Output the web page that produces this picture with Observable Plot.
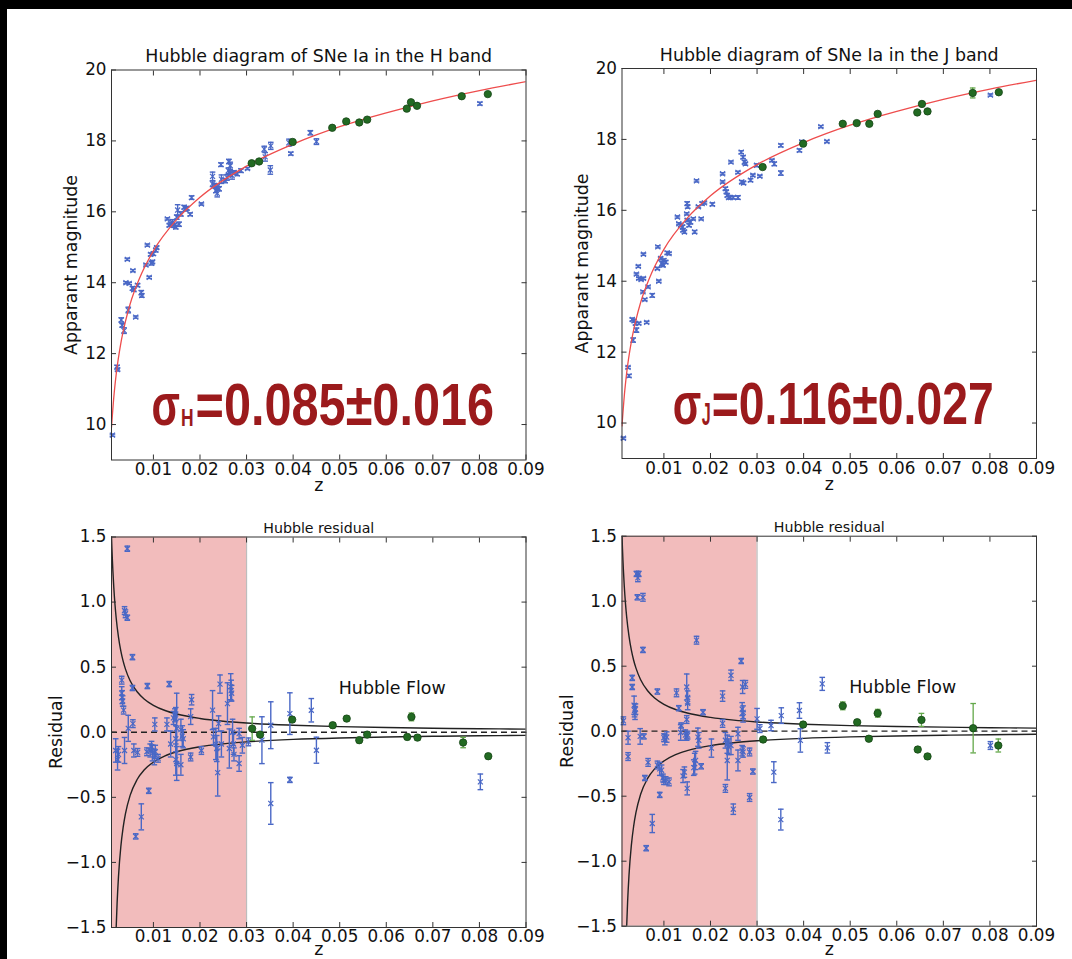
<!DOCTYPE html>
<html><head><meta charset="utf-8">
<script src="https://cdn.jsdelivr.net/npm/d3@7"></script>
<script src="https://cdn.jsdelivr.net/npm/@observablehq/plot@0.6"></script>
<style>
html,body{margin:0;padding:0;background:#fff;}
#page{position:relative;width:1072px;height:959px;background:#fff;overflow:hidden;}
.bar-top{position:absolute;left:0;top:0;width:1072px;height:9px;background:#000;}
.bar-left{position:absolute;left:0;top:0;width:7px;height:959px;background:#000;}
</style></head>
<body><div id="page"><div class="bar-top"></div><div class="bar-left"></div></div>
<script>
// ---------- axes / ticks ----------
const xTicks = [0.01, 0.02, 0.03, 0.04, 0.05, 0.06, 0.07, 0.08, 0.09];
const magTicks = [10, 12, 14, 16, 18, 20];
const resTicks = [-1.5, -1.0, -0.5, 0.0, 0.5, 1.0, 1.5];
const zDomain = [0.001, 0.09];
const magDomain = [9, 20];
const resDomain = [-1.5, 1.5];
const lowZBand = [0.001, 0.03];
const titles = ["Hubble diagram of SNe Ia in the H band", "Hubble diagram of SNe Ia in the J band", "Hubble residual"];
const axisLabels = ["Apparant magnitude", "Residual", "z"];
const flowLabel = "Hubble Flow";
const flowAt = [0.0498, 0.292];
const sigmaTexts = [["σ", "H", "=0.085±0.016"], ["σ", "J", "=0.116±0.027"]];
const sigmaAt = [[0.0096, 10.0], [0.0119, 9.97]];

// ---------- fitted Hubble line ----------
const fitZ = [0.001, 0.0015, 0.002, 0.003, 0.004, 0.005, 0.007, 0.01, 0.015, 0.02, 0.03, 0.04, 0.05, 0.06, 0.07, 0.08, 0.09];
const fitM = [9.92, 10.78, 11.41, 12.29, 12.91, 13.40, 14.12, 14.90, 15.78, 16.41, 17.29, 17.91, 18.40, 18.79, 19.13, 19.42, 19.67];

// ---------- peculiar-velocity envelope ----------
const envUpZ = [0.001, 0.0011, 0.0012, 0.0013, 0.0015, 0.00175, 0.002, 0.0025, 0.003, 0.0035, 0.004, 0.005, 0.0065, 0.008, 0.01, 0.0125, 0.015, 0.02, 0.025, 0.03, 0.04, 0.05, 0.06, 0.07, 0.08, 0.09];
const envUp = [1.505, 1.404, 1.316, 1.239, 1.109, 0.981, 0.880, 0.731, 0.625, 0.546, 0.485, 0.396, 0.311, 0.256, 0.207, 0.167, 0.140, 0.106, 0.085, 0.071, 0.054, 0.043, 0.036, 0.031, 0.027, 0.024];
const envLoZ = [0.0019, 0.002, 0.0022, 0.0025, 0.003, 0.0035, 0.004, 0.005, 0.0065, 0.008, 0.01, 0.0125, 0.015, 0.02, 0.025, 0.03, 0.04, 0.05, 0.06, 0.07, 0.08, 0.09];
const envLo = [-1.62, -1.505, -1.316, -1.109, -0.880, -0.731, -0.625, -0.485, -0.363, -0.290, -0.229, -0.181, -0.150, -0.111, -0.089, -0.074, -0.055, -0.044, -0.037, -0.031, -0.027, -0.024];

// ---------- H band magnitudes [z, m, err] ----------
const hMagBlue = [
 [0.0012,9.70,0.03],[0.0022,11.62,0.05],[0.0023,11.55,0.04],[0.0031,12.95,0.06],[0.0033,12.80,0.05],[0.0037,12.65,0.08],
 [0.0044,14.66,0.03],[0.0041,14.00,0.03],[0.0048,13.98,0.03],[0.0056,14.34,0.03],[0.0046,13.23,0.08],[0.0055,13.84,0.05],
 [0.0058,13.80,0.04],[0.0066,13.93,0.04],[0.0062,13.03,0.03],[0.0074,13.72,0.06],[0.0075,13.64,0.05],[0.0084,14.50,0.03],
 [0.0087,15.06,0.03],[0.0091,14.15,0.03],[0.0096,14.55,0.05],[0.0098,14.59,0.04],[0.0094,14.80,0.04],[0.0100,14.82,0.05],
 [0.0105,14.92,0.05],[0.0107,14.99,0.04],[0.0134,15.62,0.04],[0.0137,15.66,0.05],[0.0130,15.80,0.03],[0.0141,15.70,0.08],
 [0.0145,15.62,0.06],[0.0148,15.57,0.05],[0.0150,15.85,0.06],[0.0152,16.05,0.15],[0.0155,15.65,0.06],[0.0159,15.94,0.06],
 [0.0166,16.13,0.05],[0.0169,16.08,0.06],[0.0172,16.10,0.05],[0.0179,15.93,0.04],[0.0182,16.40,0.05],[0.0203,16.22,0.03],
 [0.0227,17.00,0.12],[0.0227,16.79,0.08],[0.0231,16.74,0.06],[0.0237,16.70,0.08],[0.0234,16.60,0.06],[0.0241,16.65,0.06],
 [0.0237,16.52,0.10],[0.0245,17.33,0.05],[0.0246,16.92,0.12],[0.0262,17.42,0.06],[0.0265,17.30,0.10],[0.0261,17.16,0.08],
 [0.0265,17.08,0.08],[0.0269,17.02,0.10],[0.0254,16.88,0.06],[0.0258,16.97,0.08],[0.0273,17.11,0.05],[0.0280,17.07,0.05],
 [0.0288,17.16,0.05],[0.0302,17.22,0.03],[0.0338,17.77,0.08],[0.0340,17.55,0.12],[0.0351,17.18,0.12],[0.0352,17.86,0.10],
 [0.0391,17.95,0.10],[0.0395,17.64,0.04],[0.0437,18.23,0.06],[0.0450,17.98,0.08],[0.0801,19.05,0.04]
];
const hMagGreen = [
 [0.0311,17.37,0.03],[0.0327,17.42,0.03],[0.0399,17.97,0.03],[0.0484,18.37,0.03],[0.0514,18.55,0.03],[0.0542,18.52,0.03],
 [0.0559,18.60,0.03],[0.0644,18.91,0.03],[0.0653,19.09,0.03],[0.0666,18.99,0.03],[0.0762,19.26,0.03],[0.0818,19.32,0.03]
];

// ---------- J band magnitudes [z, m, err] ----------
const jMagBlue = [
 [0.0013,9.57,0.03],[0.0023,11.57,0.03],[0.0025,11.33,0.04],[0.0034,12.34,0.06],[0.0032,12.92,0.04],[0.0036,12.88,0.04],
 [0.0039,12.81,0.04],[0.0046,12.81,0.03],[0.0041,12.62,0.06],[0.0041,14.20,0.03],[0.0045,14.42,0.03],[0.0046,14.08,0.03],
 [0.0051,14.05,0.03],[0.0056,14.08,0.03],[0.0056,14.76,0.03],[0.0055,13.70,0.03],[0.0059,13.48,0.03],[0.0063,12.84,0.03],
 [0.0066,13.84,0.03],[0.0075,13.60,0.05],[0.0087,14.97,0.03],[0.0089,14.00,0.03],[0.0086,14.36,0.03],[0.0093,14.64,0.04],
 [0.0096,14.50,0.05],[0.0098,14.45,0.04],[0.0100,14.59,0.04],[0.0104,14.54,0.04],[0.0107,14.80,0.04],[0.0111,14.78,0.03],
 [0.0129,15.81,0.03],[0.0132,15.62,0.03],[0.0136,15.58,0.04],[0.0140,15.53,0.05],[0.0141,15.44,0.04],[0.0144,15.39,0.04],
 [0.0150,16.19,0.05],[0.0151,16.10,0.04],[0.0149,15.90,0.03],[0.0150,15.72,0.04],[0.0154,15.58,0.04],[0.0157,15.67,0.05],
 [0.0163,15.76,0.03],[0.0166,15.39,0.04],[0.0170,16.83,0.03],[0.0174,16.10,0.03],[0.0180,15.76,0.03],[0.0182,16.19,0.04],
 [0.0187,16.21,0.03],[0.0204,16.17,0.04],[0.0226,17.03,0.03],[0.0226,16.80,0.03],[0.0232,16.61,0.04],[0.0234,16.52,0.04],
 [0.0236,16.42,0.04],[0.0239,16.36,0.04],[0.0243,16.36,0.04],[0.0249,16.36,0.04],[0.0259,16.36,0.05],[0.0244,17.36,0.03],
 [0.0259,17.07,0.03],[0.0266,17.64,0.04],[0.0270,17.50,0.04],[0.0273,17.36,0.05],[0.0275,17.31,0.04],[0.0267,16.80,0.04],
 [0.0271,16.77,0.04],[0.0286,16.85,0.04],[0.0291,16.99,0.03],[0.0299,17.27,0.04],[0.0306,16.96,0.03],[0.0332,17.41,0.03],
 [0.0337,17.31,0.05],[0.0351,17.83,0.04],[0.0351,17.05,0.06],[0.0391,17.69,0.04],[0.0396,17.93,0.04],[0.0437,18.36,0.03],
 [0.0450,17.94,0.03],[0.0801,19.25,0.03]
];
const jMagGreen = [
 [0.0312,17.22,0.03],[0.0399,17.88,0.03],[0.0484,18.44,0.03],[0.0514,18.46,0.03],[0.0541,18.44,0.03],[0.0559,18.72,0.03],
 [0.0644,18.76,0.03],[0.0654,19.00,0.03],[0.0666,18.79,0.03],[0.0763,19.31,0.14],[0.0819,19.33,0.03]
];

// ---------- H band residuals [z, residual, err] ----------
const hResBlue = [
 [0.0019,-0.14,0.09],[0.0023,-0.21,0.08],[0.0025,-0.17,0.06],[0.0032,0.40,0.03],[0.0032,0.30,0.05],[0.0033,0.27,0.05],
 [0.0034,0.24,0.04],[0.0036,0.17,0.03],[0.0038,-0.14,0.10],[0.0038,0.935,0.03],[0.0040,0.91,0.03],[0.0044,0.88,0.02],
 [0.0044,1.41,0.02],[0.0046,0.03,0.10],[0.0055,0.577,0.02],[0.0055,0.34,0.02],[0.0056,0.066,0.03],[0.0058,-0.14,0.05],
 [0.0066,-0.155,0.03],[0.0062,-0.80,0.02],[0.0074,-0.65,0.10],[0.0086,-0.15,0.03],[0.0087,0.355,0.02],[0.0090,-0.45,0.02],
 [0.0093,-0.14,0.05],[0.0096,-0.11,0.04],[0.0098,-0.16,0.06],[0.0102,-0.19,0.06],[0.0104,-0.15,0.05],[0.0103,0.06,0.05],
 [0.0110,-0.20,0.03],[0.0129,0.06,0.05],[0.0134,0.37,0.02],[0.0137,-0.09,0.10],[0.0143,0.11,0.05],[0.0146,0.13,0.05],
 [0.0148,0.14,0.05],[0.0150,0.03,0.27],[0.0148,-0.05,0.10],[0.0148,-0.21,0.12],[0.0150,-0.24,0.13],[0.0159,0.02,0.08],
 [0.0162,-0.03,0.08],[0.0164,-0.05,0.07],[0.0159,-0.25,0.08],[0.0180,0.12,0.06],[0.0182,0.25,0.04],[0.0180,-0.19,0.03],
 [0.0203,-0.14,0.03],[0.0227,0.17,0.15],[0.0229,-0.035,0.06],[0.0234,-0.09,0.12],[0.0236,-0.125,0.10],[0.0238,-0.31,0.18],
 [0.0243,0.37,0.07],[0.0240,0.066,0.06],[0.0246,-0.09,0.10],[0.0259,0.22,0.16],[0.0266,0.35,0.10],[0.0267,0.32,0.08],
 [0.0268,0.30,0.06],[0.0263,-0.125,0.15],[0.0270,0.00,0.10],[0.0272,-0.09,0.08],[0.0273,-0.17,0.05],[0.0284,-0.24,0.06],
 [0.0284,-0.01,0.04],[0.0291,-0.10,0.06],[0.0304,-0.074,0.03],[0.0333,-0.061,0.18],[0.0352,0.054,0.18],[0.0352,-0.547,0.16],
 [0.0393,0.143,0.16],[0.0393,-0.366,0.02],[0.0439,0.169,0.09],[0.0450,-0.138,0.10],[0.0802,-0.381,0.06]
];
const hResGreen = [
 [0.0312,0.028,0.09],[0.0329,-0.018,0.02],[0.0398,0.097,0.02],[0.0485,0.054,0.02],[0.0515,0.105,0.02],[0.0542,-0.061,0.02],
 [0.0559,-0.018,0.02],[0.0645,-0.036,0.02],[0.0654,0.118,0.03],[0.0667,-0.041,0.02],[0.0765,-0.079,0.04],[0.0819,-0.184,0.02]
];

// ---------- J band residuals [z, residual, err] ----------
const jResBlue = [
 [0.0013,0.08,0.03],[0.0023,-0.05,0.05],[0.0023,-0.195,0.03],[0.0032,0.41,0.02],[0.0032,0.34,0.02],[0.0036,0.20,0.07],
 [0.0037,0.16,0.05],[0.0038,0.14,0.05],[0.0039,0.17,0.04],[0.0041,1.21,0.02],[0.0044,1.18,0.03],[0.0046,1.21,0.02],
 [0.0043,1.03,0.02],[0.0055,1.03,0.03],[0.0049,-0.04,0.06],[0.0055,0.625,0.02],[0.0057,-0.04,0.02],[0.0059,-0.36,0.02],
 [0.0062,-0.90,0.02],[0.0066,-0.24,0.03],[0.0075,-0.71,0.07],[0.0086,0.305,0.02],[0.0086,-0.26,0.03],[0.0091,-0.29,0.05],
 [0.0095,-0.30,0.04],[0.0091,-0.49,0.02],[0.0098,-0.36,0.03],[0.0100,-0.38,0.03],[0.0104,-0.38,0.03],[0.0111,-0.39,0.03],
 [0.0100,-0.05,0.03],[0.0102,-0.065,0.04],[0.0106,-0.045,0.04],[0.0127,0.295,0.03],[0.0132,0.177,0.02],[0.0137,0.044,0.02],
 [0.0136,-0.01,0.06],[0.0141,-0.345,0.05],[0.0144,-0.315,0.04],[0.0146,-0.03,0.04],[0.0149,-0.04,0.03],[0.0151,-0.03,0.03],
 [0.0149,0.34,0.10],[0.0149,0.09,0.03],[0.0151,0.215,0.05],[0.0151,0.26,0.05],[0.0150,-0.44,0.05],[0.0170,0.70,0.03],
 [0.0173,-0.046,0.07],[0.0175,-0.07,0.06],[0.0164,-0.28,0.06],[0.0166,-0.25,0.08],[0.0168,-0.225,0.07],[0.0180,-0.27,0.02],
 [0.0184,0.146,0.02],[0.0202,-0.13,0.07],[0.0226,0.27,0.04],[0.0226,0.06,0.03],[0.0232,-0.07,0.06],[0.0236,-0.10,0.07],
 [0.0239,-0.12,0.06],[0.0244,-0.11,0.07],[0.0232,-0.44,0.03],[0.0236,-0.225,0.15],[0.0244,0.43,0.04],[0.0249,-0.60,0.04],
 [0.0259,-0.02,0.05],[0.0259,-0.225,0.08],[0.0266,0.54,0.02],[0.0268,0.17,0.05],[0.0270,0.145,0.05],[0.0270,0.11,0.04],
 [0.0268,-0.15,0.04],[0.0270,-0.16,0.04],[0.0269,0.34,0.05],[0.0275,0.36,0.03],[0.0284,-0.16,0.03],[0.0284,-0.51,0.03],
 [0.0291,-0.31,0.02],[0.0300,0.095,0.08],[0.0306,0.02,0.03],[0.0330,0.044,0.04],[0.0336,-0.315,0.08],[0.0352,0.12,0.06],
 [0.0351,-0.68,0.08],[0.0391,0.159,0.06],[0.0393,-0.071,0.09],[0.0440,0.364,0.05],[0.0451,-0.128,0.04],[0.0801,-0.11,0.03]
];
const jResGreen = [
 [0.0313,-0.064,0.02],[0.0399,0.051,0.02],[0.0484,0.195,0.03],[0.0515,0.069,0.02],[0.0540,-0.058,0.02],[0.0559,0.138,0.03],
 [0.0645,-0.141,0.02],[0.0653,0.087,0.05],[0.0666,-0.194,0.02],[0.0764,0.023,0.19],[0.0818,-0.11,0.05]
];

// ---------- styling ----------
const FONT = "DejaVu Sans, Bitstream Vera Sans, Verdana, sans-serif";
const BLUE = "#4a68c6", GREEN = "#226a22", GREEN_EDGE = "#174517", GREEN_BAR = "#63a84a";
const RED = "#ee4d4d", PINK = "#f2bcbc", SIGMA = "#9b1a1c";
const capSymbol = {draw(ctx, size) { const w = Math.sqrt(size / Math.PI); ctx.moveTo(-w, 0); ctx.lineTo(w, 0); }};
const rows = arr => arr.map(([z, v, e]) => ({z, v, e}));
const pts = (xs, ys) => xs.map((x, i) => ({x, y: ys[i]}));

function errorMarks(data, barColor, width) {
  const d = rows(data);
  return [
    Plot.ruleX(d, {x: "z", y1: r => r.v - r.e, y2: r => r.v + r.e, stroke: barColor, strokeWidth: width}),
    Plot.dot(d, {x: "z", y: r => r.v + r.e, symbol: capSymbol, r: 2.8, stroke: barColor, strokeWidth: width, fill: "none"}),
    Plot.dot(d, {x: "z", y: r => r.v - r.e, symbol: capSymbol, r: 2.8, stroke: barColor, strokeWidth: width, fill: "none"})
  ];
}
function blueMarks(data) {
  return [
    ...errorMarks(data, BLUE, 1.4),
    Plot.dot(rows(data), {x: "z", y: "v", symbol: "times", r: 2.4, stroke: BLUE, strokeWidth: 1.2})
  ];
}
function greenMarks(data) {
  return [
    ...errorMarks(data, GREEN_BAR, 1.3),
    Plot.dot(rows(data), {x: "z", y: "v", r: 3.7, fill: GREEN, stroke: GREEN_EDGE, strokeWidth: 0.8})
  ];
}

function frameMarks(o) {
  return [
    Plot.frame({stroke: "#333", strokeWidth: 1}),
    Plot.axisX(xTicks, {anchor: "bottom", tickSize: 0, tickPadding: o.xPad, tickFormat: d3.format(".2f"), fontSize: 16.8, label: null, fill: "#111"}),
    Plot.axisX(xTicks, {anchor: "bottom", tickSize: -5, fill: "none", label: null, stroke: "#333"}),
    Plot.axisX(xTicks, {anchor: "top", tickSize: -5, fill: "none", label: null, stroke: "#333"}),
    Plot.axisY(o.yTicks, {anchor: "left", tickSize: 0, tickPadding: 5, tickFormat: o.yFmt, fontSize: 16.8, label: null, fill: "#111"}),
    Plot.axisY(o.yTicks, {anchor: "left", tickSize: -5, fill: "none", label: null, stroke: "#333"}),
    Plot.axisY(o.yTicks, {anchor: "right", tickSize: -5, fill: "none", label: null, stroke: "#333"}),
    Plot.text([o.title], {text: d => d, frameAnchor: "top", lineAnchor: "bottom", dy: o.titleDy, fontSize: o.titleSize, fill: "#111"}),
    Plot.text([o.ylabel], {text: d => d, frameAnchor: "left", rotate: -90, lineAnchor: "middle", textAnchor: "middle", dx: o.yLabDx, fontSize: 17.4, fill: "#111"}),
    Plot.text([axisLabels[2]], {text: d => d, frameAnchor: "bottom", lineAnchor: "bottom", dy: o.zDy, fontSize: 17.4, fill: "#111"})
  ];
}

function sigmaMarks(idx, subDx, mainDx) {
  const at = [sigmaAt[idx]];
  const base = {x: d => d[0], y: d => d[1], textAnchor: "start", lineAnchor: "bottom", fill: SIGMA, fontWeight: "bold", fontFamily: "Liberation Sans, Arial, sans-serif"};
  return [
    Plot.text(at, {...base, text: () => sigmaTexts[idx][0], fontSize: 60}),
    Plot.text(at, {...base, text: () => sigmaTexts[idx][1], fontSize: idx === 0 ? 24 : 32, dx: subDx, dy: 1}),
    Plot.text(at, {...base, text: () => sigmaTexts[idx][2], fontSize: 60, dx: mainDx})
  ];
}

const page = document.getElementById("page");
function place(svg, left, top) {
  svg.style.position = "absolute";
  svg.style.left = left + "px";
  svg.style.top = top + "px";
  page.appendChild(svg);
  return svg;
}
// horizontally condense a text (after it is in the document) so that it spans `len` pixels
function squash(svg, content, len) {
  d3.select(svg).selectAll("text")
    .filter(function () { return this.textContent === content; })
    .each(function () {
      const w = this.getComputedTextLength();
      if (!w) return;
      const t = this.getAttribute("transform") || "";
      this.setAttribute("transform", `${t} scale(${(len / w).toFixed(4)},1)`);
    });
}
const styleBase = {background: "transparent", fontFamily: FONT, fontSize: "16.8px", color: "#111", overflow: "visible"};

function magPanel(o, blue, green, sigIdx, subDx, mainDx, lens) {
  const svg = Plot.plot({
    width: o.width, height: o.height,
    marginLeft: o.mL, marginRight: o.mR, marginTop: o.mT, marginBottom: o.mB,
    style: styleBase,
    x: {domain: zDomain},
    y: {domain: magDomain},
    marks: [
      ...blueMarks(blue),
      Plot.line(pts(fitZ, fitM), {x: "x", y: "y", stroke: RED, strokeWidth: 1.3, curve: "monotone-x", clip: true}),
      ...greenMarks(green),
      ...sigmaMarks(sigIdx, subDx, mainDx),
      ...frameMarks({...o, yTicks: magTicks, yFmt: d3.format("d")})
    ]
  });
  place(svg, o.left, o.top);
  sigmaTexts[sigIdx].forEach((t, i) => squash(svg, t, lens[i]));
  return svg;
}

function resPanel(o, blue, green) {
  const svg = Plot.plot({
    width: o.width, height: o.height,
    marginLeft: o.mL, marginRight: o.mR, marginTop: o.mT, marginBottom: o.mB,
    style: styleBase,
    x: {domain: zDomain},
    y: {domain: resDomain},
    marks: [
      Plot.rect([lowZBand], {x1: d => d[0], x2: d => d[1], fill: PINK}),
      Plot.ruleX([lowZBand[1]], {stroke: "#bdbdbd", strokeWidth: 1.2}),
      Plot.line(pts(envUpZ, envUp), {x: "x", y: "y", stroke: "#222", strokeWidth: 1.4, curve: "monotone-x", clip: true}),
      Plot.line(pts(envLoZ, envLo), {x: "x", y: "y", stroke: "#222", strokeWidth: 1.4, curve: "monotone-x", clip: true}),
      Plot.ruleY([0], {stroke: "#222", strokeWidth: 1.3, strokeDasharray: "6,4"}),
      ...blueMarks(blue),
      ...greenMarks(green),
      Plot.text([flowAt], {x: d => d[0], y: d => d[1], text: () => flowLabel, textAnchor: "start", lineAnchor: "bottom", fontSize: 17.4, fill: "#111"}),
      ...frameMarks({...o, yTicks: resTicks, yFmt: d3.format(".1f")})
    ]
  });
  return place(svg, o.left, o.top);
}

magPanel({left: 0, top: 0, width: 536, height: 500, mL: 111, mR: 10.5, mT: 69.5, mB: 40.5,
  title: titles[0], titleSize: 17.4, titleDy: -8, ylabel: axisLabels[0], yLabDx: -40.5, zDy: 30.5, xPad: 3.5},
  hMagBlue, hMagGreen, 0, 29.5, 44, [28.5, 12.6, 298.5]);
magPanel({left: 510, top: 0, width: 536, height: 500, mL: 111.5, mR: 10, mT: 68, mB: 42,
  title: titles[1], titleSize: 17.4, titleDy: -8, ylabel: axisLabels[0], yLabDx: -40, zDy: 31, xPad: 3.5},
  jMagBlue, jMagGreen, 1, 29, 39, [28.5, 9, 282]);
resPanel({left: 0, top: 480, width: 536, height: 479, mL: 111, mR: 10.5, mT: 56.5, mB: 32,
  title: titles[2], titleSize: 14.2, titleDy: -4.5, ylabel: axisLabels[1], yLabDx: -55, zDy: 27.5, xPad: 3},
  hResBlue, hResGreen);
resPanel({left: 510, top: 480, width: 536, height: 479, mL: 111.5, mR: 10, mT: 55.7, mB: 33.3,
  title: titles[2], titleSize: 14.2, titleDy: -4.5, ylabel: axisLabels[1], yLabDx: -55, zDy: 28.8, xPad: 3},
  jResBlue, jResGreen);
</script>
</body></html>
